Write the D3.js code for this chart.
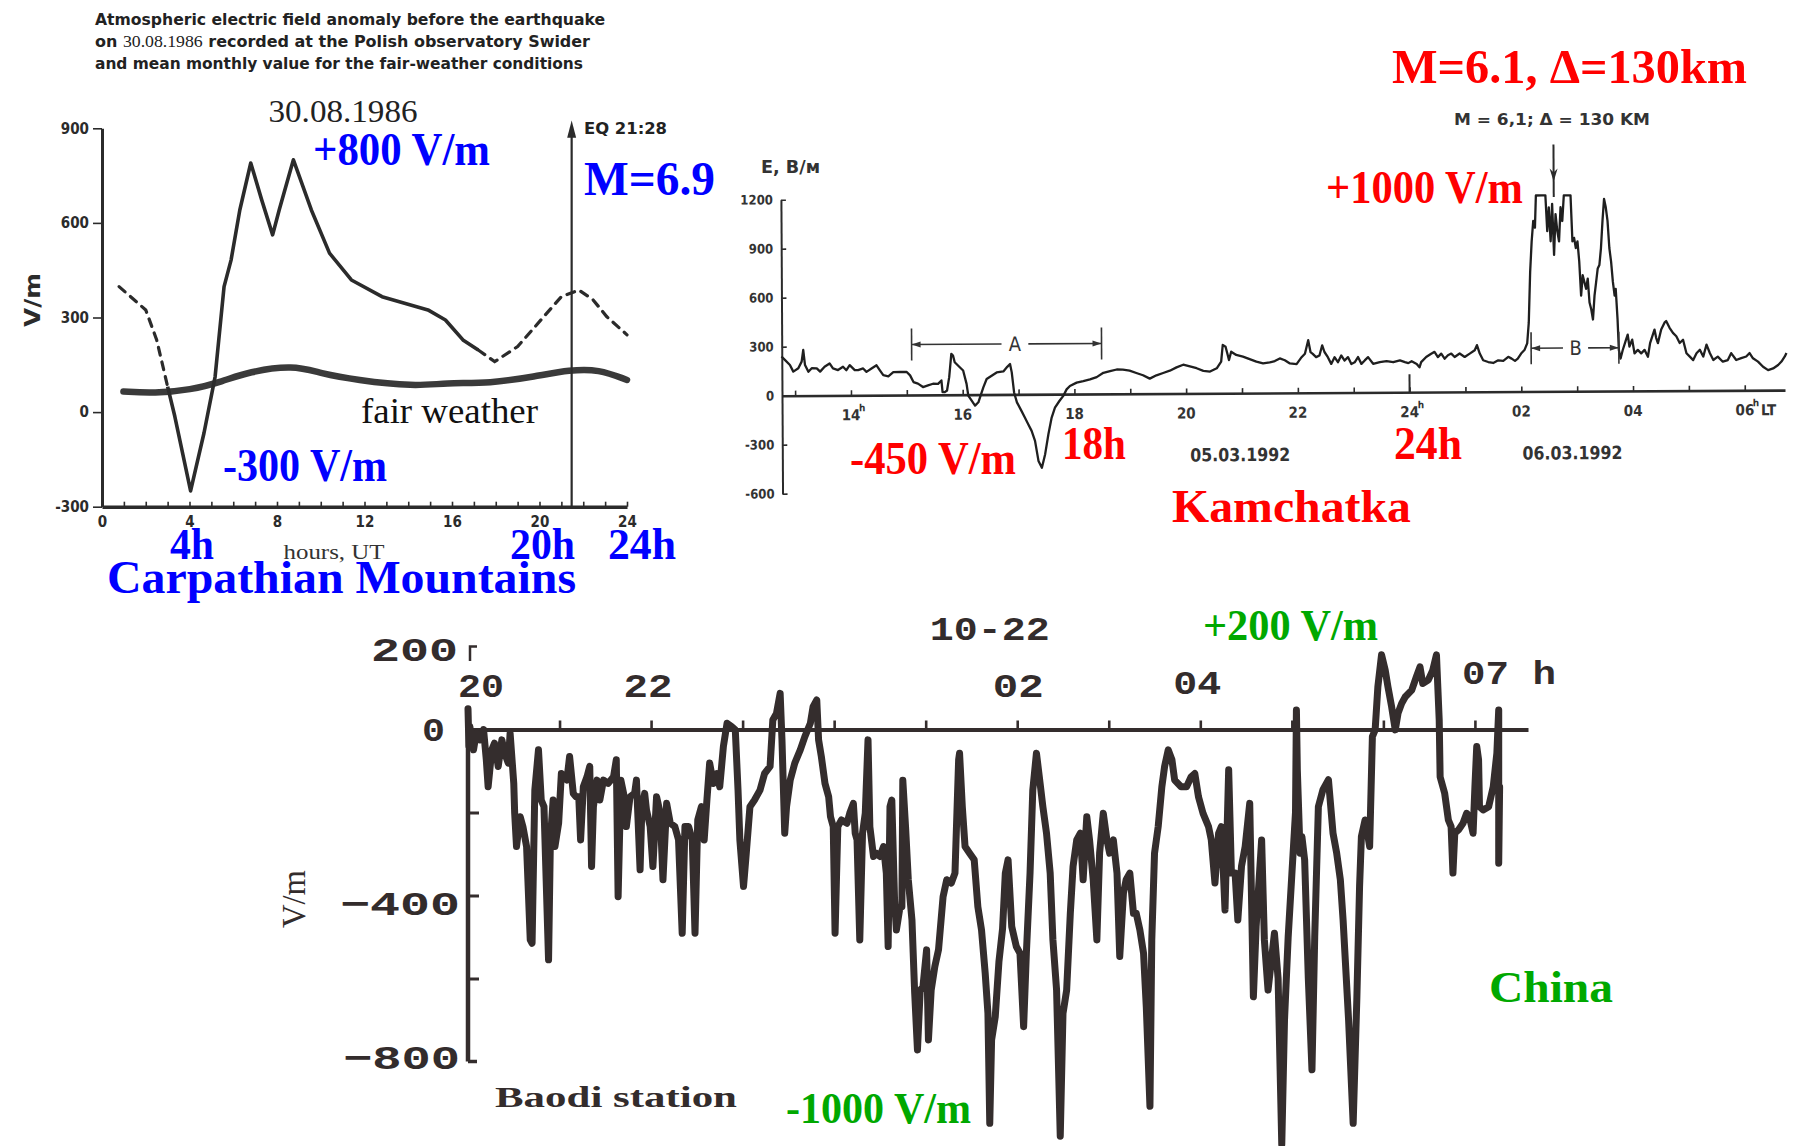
<!DOCTYPE html>
<html lang="en">
<head>
<meta charset="utf-8">
<title>Atmospheric electric field anomalies before earthquakes</title>
<script src="https://cdn.jsdelivr.net/npm/d3@7/dist/d3.min.js"></script>
<style>
  html, body { margin: 0; padding: 0; background: #fff; }
  svg { display: block; background: #fff; }
</style>
</head>
<body>
<svg id="figure" width="1796" height="1146" viewBox="0 0 1796 1146"></svg>
<script>
// ---------- Swider observatory, 30.08.1986 (hour UT, V/m) ----------
const swiderHourTicks = [0, 4, 8, 12, 16, 20, 24];
const swiderValueTicks = [-300, 0, 300, 600, 900];
const swiderDashedMorning = [[0.78, 398], [2.0, 324], [2.5, 229], [3.0, 81]];
const swiderSolid = [[3.0, 81], [3.33, -14], [4.05, -250], [4.66, -67], [5.17, 112], [5.58, 398],
  [5.9, 482], [6.3, 641], [6.8, 790], [7.3, 673], [7.8, 562], [8.1, 641], [8.75, 800], [9.57, 641],
  [10.4, 504], [11.4, 419], [12.8, 366], [14.9, 324], [15.7, 292], [16.5, 229], [17.2, 197]];
const swiderDashedEvening = [[17.2, 197], [17.95, 160], [19.0, 208], [20.2, 303], [21.0, 366],
  [21.8, 387], [22.45, 356], [23.07, 303], [24.0, 245]];
const swiderFairWeather = [[0.98, 65], [2.4, 60], [4.05, 70], [5.5, 97], [6.7, 128], [8.75, 149],
  [10.0, 123], [11.6, 102], [14.3, 81], [15.7, 93], [17.75, 91], [19.8, 113], [21.4, 134],
  [22.7, 136], [24.0, 102]];
const swiderQuakeHour = 21.47;          // EQ 21:28

// ---------- Kamchatka, 05-06.03.1992 (local hour counted from 05.03 00h, V/m) ----------
const kamValueTicks = [-600, -300, 0, 300, 600, 900, 1200];
const kamHourTicks = [13, 14, 15, 16, 17, 18, 19, 20, 21, 22, 23, 24, 25, 26, 27, 28, 29, 30];
const kamHourLabelAt = [14, 16, 18, 20, 22, 24, 26, 28, 30];
const kamHourLabels = ["14", "16", "18", "20", "22", "24", "02", "04", "06"];
const kamHourSup = ["h", "", "", "", "", "h", "", "", "h"];
const kamDates = ["05.03.1992", "06.03.1992"];
const kamDateAt = [20.96, 26.91];
const kamQuakeHour = 26.60;
const kamBrackets = [
  { name: "A", from: 15.09, to: 18.49, level: 309, gapFrom: 16.70, gapTo: 17.18 },
  { name: "B", from: 26.18, to: 27.75, level: 265, gapFrom: 26.75, gapTo: 27.20 }
];
const kamTrace = [[12.76, 240], [12.82, 219], [12.91, 188], [12.97, 147], [13.06, 167], [13.12, 208],
  [13.15, 279], [13.18, 187], [13.24, 146], [13.30, 167], [13.39, 166], [13.45, 146], [13.53, 176],
  [13.62, 196], [13.68, 165], [13.77, 155], [13.86, 175], [13.92, 154], [13.98, 185], [14.07, 154],
  [14.13, 154], [14.22, 164], [14.28, 143], [14.37, 163], [14.46, 183], [14.52, 152], [14.58, 122],
  [14.67, 115], [14.76, 141], [14.88, 141], [15.00, 141], [15.06, 120], [15.12, 79], [15.20, 69],
  [15.29, 48], [15.38, 58], [15.47, 68], [15.56, 67], [15.62, 88], [15.64, 16], [15.68, 16],
  [15.72, 26], [15.76, 108], [15.80, 250], [15.83, 240], [15.86, 199], [15.95, 168], [16.01, 148],
  [16.07, 66], [16.10, -6], [16.16, -37], [16.22, -67], [16.28, -47], [16.32, -7], [16.37, 44],
  [16.43, 95], [16.52, 115], [16.61, 135], [16.73, 141], [16.80, 169], [16.85, 186], [16.88, 135],
  [16.92, 12], [16.97, -49], [17.05, -101], [17.11, -142], [17.17, -183], [17.23, -224], [17.29, -285],
  [17.35, -408], [17.41, -450], [17.47, -367], [17.53, -245], [17.59, -143], [17.65, -82], [17.73, -42],
  [17.80, -11], [17.86, 29], [17.92, 50], [18.04, 70], [18.16, 79], [18.28, 89], [18.40, 103],
  [18.52, 129], [18.64, 139], [18.76, 149], [18.87, 148], [18.99, 142], [19.11, 127], [19.23, 113],
  [19.35, 92], [19.47, 112], [19.59, 126], [19.71, 140], [19.83, 160], [19.95, 176], [20.07, 165],
  [20.19, 154], [20.31, 138], [20.43, 133], [20.55, 153], [20.63, 194], [20.66, 296], [20.71, 285],
  [20.74, 245], [20.77, 203], [20.81, 254], [20.90, 234], [21.02, 223], [21.14, 208], [21.26, 192],
  [21.38, 181], [21.50, 187], [21.59, 195], [21.68, 211], [21.77, 200], [21.86, 180], [21.98, 176],
  [22.07, 218], [22.13, 239], [22.19, 322], [22.23, 249], [22.27, 238], [22.33, 218], [22.39, 228],
  [22.44, 290], [22.48, 249], [22.54, 217], [22.60, 176], [22.66, 217], [22.72, 186], [22.78, 227],
  [22.84, 196], [22.90, 217], [22.96, 175], [23.02, 185], [23.08, 217], [23.14, 175], [23.20, 196],
  [23.26, 216], [23.35, 175], [23.47, 185], [23.59, 191], [23.71, 184], [23.83, 195], [23.92, 184],
  [23.98, 178], [24.04, 190], [24.13, 173], [24.18, 152], [24.21, 184], [24.30, 215], [24.39, 235],
  [24.45, 246], [24.51, 214], [24.57, 235], [24.63, 204], [24.69, 225], [24.75, 235], [24.81, 214],
  [24.90, 235], [24.99, 214], [25.08, 234], [25.17, 255], [25.21, 286], [25.26, 234], [25.32, 193],
  [25.41, 182], [25.50, 176], [25.59, 192], [25.68, 188], [25.77, 213], [25.83, 202], [25.89, 188],
  [25.94, 202], [26.00, 233], [26.06, 254], [26.11, 295], [26.14, 420], [26.17, 732], [26.20, 919],
  [26.23, 1044], [26.26, 1003], [26.28, 1200], [26.39, 1200], [26.45, 1200], [26.48, 981], [26.51, 1127],
  [26.54, 919], [26.57, 1148], [26.60, 836], [26.63, 1085], [26.66, 981], [26.69, 918], [26.72, 1127],
  [26.75, 1043], [26.78, 1200], [26.90, 1200], [26.93, 918], [26.96, 939], [26.99, 877], [27.02, 918],
  [27.05, 793], [27.08, 585], [27.11, 710], [27.14, 668], [27.17, 627], [27.20, 689], [27.23, 543],
  [27.26, 502], [27.29, 439], [27.32, 585], [27.35, 668], [27.38, 751], [27.41, 772], [27.44, 876],
  [27.47, 1042], [27.50, 1177], [27.53, 1125], [27.56, 1042], [27.59, 876], [27.62, 792], [27.65, 668],
  [27.68, 584], [27.70, 626], [27.73, 439], [27.75, 251], [27.78, 199], [27.82, 251], [27.88, 314],
  [27.91, 345], [27.94, 272], [27.99, 314], [28.03, 230], [28.09, 251], [28.15, 230], [28.21, 251],
  [28.27, 209], [28.31, 292], [28.35, 334], [28.39, 375], [28.42, 323], [28.45, 292], [28.51, 375],
  [28.57, 417], [28.60, 427], [28.66, 385], [28.72, 354], [28.78, 333], [28.84, 292], [28.90, 312],
  [28.96, 229], [29.02, 208], [29.08, 187], [29.14, 229], [29.20, 250], [29.26, 208], [29.32, 281],
  [29.38, 228], [29.44, 187], [29.52, 207], [29.61, 176], [29.70, 186], [29.76, 228], [29.85, 186],
  [29.94, 197], [30.03, 207], [30.09, 228], [30.15, 196], [30.24, 175], [30.33, 144], [30.42, 123],
  [30.51, 133], [30.60, 154], [30.66, 175], [30.72, 206], [30.75, 227]];

// ---------- Baodi station, 10-22 (hour counted from 10-21 00h, V/m) ----------
const baodiHourTicks = [21, 22, 23, 24, 25, 26, 27, 28, 29, 30, 31];
const baodiMinorValueTicks = [-200, -400, -600];
const baodiValueLabels = ["200", "0", "\u2212400", "\u2212800"];
const baodiHourLabels = ["20", "22", "02", "04", "07 h"];
const baodiHourLabelAt = [20, 22, 26, 28, 31];
const baodiTrace = [[20.00, 50], [20.01, -40], [20.02, 7], [20.06, -49], [20.09, -9], [20.13, -25],
  [20.17, 0], [20.20, -73], [20.22, -138], [20.26, -49], [20.29, -33], [20.33, -89], [20.37, -25],
  [20.40, -57], [20.44, -81], [20.46, -9], [20.50, -130], [20.51, -202], [20.53, -282], [20.57, -210],
  [20.60, -234], [20.64, -282], [20.68, -507], [20.70, -515], [20.73, -146], [20.77, -49], [20.80, -170],
  [20.83, -186], [20.88, -555], [20.90, -266], [20.93, -170], [20.95, -282], [20.99, -226], [21.02, -106],
  [21.08, -122], [21.11, -65], [21.15, -154], [21.18, -162], [21.21, -162], [21.23, -266], [21.26, -138],
  [21.30, -114], [21.33, -89], [21.35, -330], [21.37, -186], [21.41, -122], [21.44, -170], [21.48, -122],
  [21.53, -130], [21.59, -114], [21.62, -73], [21.64, -403], [21.67, -122], [21.70, -154], [21.73, -234],
  [21.77, -162], [21.82, -154], [21.84, -122], [21.88, -338], [21.90, -186], [21.93, -154], [21.95, -194],
  [21.99, -234], [22.02, -330], [22.06, -162], [22.10, -202], [22.13, -362], [22.17, -178], [22.21, -226],
  [22.26, -234], [22.30, -266], [22.34, -491], [22.37, -234], [22.41, -234], [22.45, -266], [22.48, -491],
  [22.51, -218], [22.55, -186], [22.58, -266], [22.61, -170], [22.64, -81], [22.68, -130], [22.72, -106],
  [22.75, -138], [22.79, -41], [22.83, 15], [22.88, 7], [22.92, -1], [22.95, -146], [22.97, -266],
  [23.01, -378], [23.04, -298], [23.08, -186], [23.13, -170], [23.19, -146], [23.24, -106], [23.30, -89],
  [23.33, 23], [23.37, 39], [23.41, 87], [23.43, -25], [23.46, -250], [23.48, -186], [23.52, -122],
  [23.57, -81], [23.63, -49], [23.68, -17], [23.74, 15], [23.77, 55], [23.81, 71], [23.83, -25],
  [23.86, -65], [23.90, -130], [23.94, -162], [23.96, -210], [23.99, -234], [24.01, -491], [24.04, -234],
  [24.08, -218], [24.14, -226], [24.17, -202], [24.21, -178], [24.23, -250], [24.25, -266], [24.28, -507],
  [24.31, -250], [24.34, -202], [24.37, -25], [24.39, -234], [24.43, -306], [24.46, -298], [24.50, -306],
  [24.54, -282], [24.57, -346], [24.59, -523], [24.61, -186], [24.63, -170], [24.66, -411], [24.68, -483],
  [24.72, -427], [24.74, -427], [24.75, -122], [24.78, -234], [24.81, -362], [24.85, -459], [24.88, -636],
  [24.91, -772], [24.94, -628], [24.97, -620], [25.01, -531], [25.03, -748], [25.06, -628], [25.10, -571],
  [25.14, -531], [25.19, -403], [25.23, -362], [25.28, -370], [25.32, -346], [25.36, -73], [25.37, -57],
  [25.40, -186], [25.43, -282], [25.48, -298], [25.53, -314], [25.57, -427], [25.61, -483], [25.65, -587],
  [25.68, -684], [25.70, -949], [25.72, -748], [25.76, -692], [25.80, -560], [25.84, -480], [25.87, -346],
  [25.90, -314], [25.94, -475], [25.99, -523], [26.03, -539], [26.07, -716], [26.10, -539], [26.14, -346],
  [26.17, -146], [26.21, -57], [26.25, -130], [26.28, -186], [26.32, -250], [26.36, -346], [26.39, -507],
  [26.43, -628], [26.47, -980], [26.50, -684], [26.54, -628], [26.58, -443], [26.61, -330], [26.65, -266],
  [26.69, -250], [26.72, -362], [26.76, -210], [26.79, -266], [26.83, -362], [26.87, -507], [26.90, -298],
  [26.94, -202], [26.98, -266], [27.01, -298], [27.05, -266], [27.09, -346], [27.12, -547], [27.16, -395],
  [27.19, -362], [27.23, -346], [27.27, -443], [27.30, -443], [27.34, -483], [27.38, -539], [27.41, -668],
  [27.45, -908], [27.47, -507], [27.50, -298], [27.54, -234], [27.58, -138], [27.61, -89], [27.65, -49],
  [27.69, -73], [27.72, -122], [27.79, -138], [27.85, -138], [27.90, -114], [27.94, -106], [27.98, -162],
  [28.03, -202], [28.09, -234], [28.12, -266], [28.16, -370], [28.20, -250], [28.23, -234], [28.27, -435],
  [28.31, -97], [28.34, -346], [28.38, -346], [28.41, -459], [28.45, -330], [28.49, -282], [28.54, -178],
  [28.58, -644], [28.61, -475], [28.67, -266], [28.70, -507], [28.74, -628], [28.81, -491], [28.85, -600],
  [28.89, -1000], [28.92, -700], [28.96, -500], [29.00, -350], [29.04, -200], [29.05, 47], [29.06, -97],
  [29.09, -298], [29.11, -258], [29.14, -314], [29.18, -600], [29.22, -820], [29.25, -500], [29.29, -186],
  [29.34, -145], [29.40, -121], [29.45, -250], [29.49, -298], [29.53, -362], [29.56, -459], [29.62, -700],
  [29.67, -949], [29.71, -650], [29.74, -378], [29.76, -258], [29.80, -218], [29.82, -242], [29.85, -282],
  [29.88, -17], [29.91, -1], [29.94, 103], [29.98, 180], [30.02, 143], [30.05, 103], [30.09, 55],
  [30.13, -1], [30.16, 39], [30.20, 63], [30.24, 79], [30.31, 95], [30.36, 127], [30.40, 151],
  [30.43, 111], [30.49, 119], [30.54, 143], [30.58, 180], [30.61, 23], [30.62, -114], [30.67, -154],
  [30.71, -218], [30.74, -234], [30.76, -346], [30.78, -250], [30.82, -242], [30.87, -226], [30.91, -202],
  [30.94, -210], [30.98, -250], [31.00, -138], [31.02, -41], [31.04, -73], [31.05, -186], [31.09, -194],
  [31.15, -186], [31.20, -138], [31.24, -57], [31.26, 47], [31.26, -322], [31.27, -138]];

// ---------- shared helpers ----------
const NARROW = '"Liberation Sans Narrow", "DejaVu Sans Condensed", "Arial Narrow", sans-serif';
const SERIF = '"Liberation Serif", "Times New Roman", serif';
const MONO = '"Liberation Mono", "Courier New", monospace';
const INK = "#2b2b2b";
const BLUE = "#0000ff", RED = "#ff0000", GREEN = "#00a800";
const plain = d => String(d);   // ASCII hyphen for negative tick values

const svg = d3.select("#figure");

function addText(parent, x, y, str, o = {}) {
  const t = parent.append("text")
    .attr("x", x).attr("y", y)
    .style("font-family", o.family || SERIF)
    .style("font-size", (o.size || 16) + "px")
    .style("font-weight", o.weight || "normal")
    .style("fill", o.fill || INK)
    .attr("text-anchor", o.anchor || "start")
    .text(str);
  if (o.width) t.attr("textLength", o.width).attr("lengthAdjust", "spacingAndGlyphs");
  if (o.rotate) t.attr("transform", `rotate(${o.rotate},${x},${y})`);
  return t;
}

function styleAxis(sel, o) {
  sel.select(".domain").attr("stroke", o.stroke || INK).attr("stroke-width", o.domainWidth || 2.5);
  sel.selectAll(".tick line").attr("stroke", o.stroke || INK).attr("stroke-width", o.tickWidth || 1.6);
  sel.selectAll(".tick text")
    .style("font-family", o.family || NARROW)
    .style("font-size", (o.size || 14) + "px")
    .style("font-weight", o.weight || "bold")
    .style("fill", o.fill || INK);
}

// =====================================================================
// Swider (Carpathian) panel
// =====================================================================
const sx = d3.scaleLinear().domain([0, 24]).range([102, 627]);
const sy = d3.scaleLinear().domain([-300, 900]).range([506.7, 128.3]);
const gS = svg.append("g");

addText(gS, 95, 25, "Atmospheric electric field anomaly before the earthquake",
  { family: NARROW, size: 16, weight: "bold", width: 510, fill: "#222" });
const line2 = addText(gS, 95, 47, "", { family: NARROW, size: 16, weight: "bold", width: 495, fill: "#222" });
line2.append("tspan").text("on ");
line2.append("tspan").style("font-family", SERIF).style("font-weight", "normal").text("30.08.1986");
line2.append("tspan").text(" recorded at the Polish observatory Swider");
addText(gS, 95, 69, "and mean monthly value for the fair-weather conditions",
  { family: NARROW, size: 16, weight: "bold", width: 488, fill: "#222" });

addText(gS, 343, 122, "30.08.1986", { size: 31, anchor: "middle", width: 149, fill: "#222" });

const sYAxis = gS.append("g").attr("transform", `translate(${sx(0)},0)`)
  .call(d3.axisLeft(sy).tickValues(swiderValueTicks).tickSize(9).tickSizeOuter(0).tickPadding(4)
    .tickFormat(plain));
styleAxis(sYAxis, { domainWidth: 3, size: 15 });

const sXAxis = gS.append("g").attr("transform", `translate(0,${sy(-300)})`)
  .call(d3.axisBottom(sx).tickValues(d3.range(0, 25)).tickSize(-5).tickSizeOuter(0).tickPadding(10)
    .tickFormat(h => swiderHourTicks.includes(h) ? String(h) : ""));
styleAxis(sXAxis, { domainWidth: 3.5, size: 15 });

addText(gS, 40, 300, "V/m", { family: '"DejaVu Sans", sans-serif', size: 21, weight: "bold",
  anchor: "middle", rotate: -90, width: 54 });
addText(gS, 334, 559, "hours, UT", { size: 21, anchor: "middle", width: 101, fill: "#333" });

const sLine = d3.line().x(d => sx(d[0])).y(d => sy(d[1]));
gS.append("path").datum(swiderFairWeather)
  .attr("d", sLine.curve(d3.curveBasis))
  .attr("fill", "none").attr("stroke", "#3a3a3a").attr("stroke-width", 6.5).attr("stroke-linecap", "round");
sLine.curve(d3.curveLinear);
gS.append("path").datum(swiderSolid).attr("d", sLine)
  .attr("fill", "none").attr("stroke", INK).attr("stroke-width", 3.6).attr("stroke-linejoin", "round");
[swiderDashedMorning, swiderDashedEvening].forEach(seg => {
  gS.append("path").datum(seg).attr("d", sLine)
    .attr("fill", "none").attr("stroke", INK).attr("stroke-width", 3.2)
    .attr("stroke-dasharray", "8,7").attr("stroke-linecap", "round");
});

// earthquake marker
const qx = sx(swiderQuakeHour);
gS.append("line").attr("x1", qx).attr("x2", qx).attr("y1", sy(-300)).attr("y2", sy(900))
  .attr("stroke", INK).attr("stroke-width", 2.2);
gS.append("path")
  .attr("d", `M${qx},${sy(925)} L${qx - 4.5},${sy(870)} L${qx + 4.5},${sy(870)} Z`)
  .attr("fill", INK);
addText(gS, 584, 134, "EQ 21:28", { family: NARROW, size: 16, weight: "bold", width: 83, fill: "#222" });

addText(gS, 361, 423, "fair weather", { size: 36, width: 177, fill: "#111" });

addText(gS, 313, 165, "+800 V/m", { size: 46, weight: "bold", fill: BLUE, width: 177 });
addText(gS, 584, 195, "M=6.9", { size: 48, weight: "bold", fill: BLUE, width: 131 });
addText(gS, 223, 481, "-300 V/m", { size: 46, weight: "bold", fill: BLUE, width: 164 });
addText(gS, 170, 559, "4h", { size: 44, weight: "bold", fill: BLUE, width: 44 });
addText(gS, 510, 559, "20h", { size: 44, weight: "bold", fill: BLUE, width: 65 });
addText(gS, 608, 559, "24h", { size: 44, weight: "bold", fill: BLUE, width: 68 });
addText(gS, 107, 593, "Carpathian Mountains", { size: 46, weight: "bold", fill: BLUE, width: 469 });

// =====================================================================
// Kamchatka panel (the recorder sheet sits slightly tilted)
// =====================================================================
const kx = d3.scaleLinear().domain([12.765, 30.72]).range([782, 1785]);
const ky = d3.scaleLinear().domain([-600, 1200]).range([493.7, 199.7]);
const gK = svg.append("g").attr("transform", `rotate(-0.32,${kx(12.765)},${ky(0)})`);

const kYAxis = gK.append("g").attr("transform", `translate(${kx(12.765)},0)`)
  .call(d3.axisLeft(ky).tickValues(kamValueTicks).tickSize(-5).tickSizeOuter(0).tickPadding(8)
    .tickFormat(plain));
styleAxis(kYAxis, { domainWidth: 2, size: 13, fill: "#333" });

const kXAxis = gK.append("g").attr("transform", `translate(0,${ky(0)})`)
  .call(d3.axisBottom(kx).tickValues(kamHourTicks).tickSize(-5).tickSizeOuter(0).tickFormat(""));
styleAxis(kXAxis, { domainWidth: 2.6 });
// longer tick at midnight
gK.append("line").attr("x1", kx(24)).attr("x2", kx(24)).attr("y1", ky(0)).attr("y2", ky(110))
  .attr("stroke", INK).attr("stroke-width", 2);

kamHourLabelAt.forEach((h, i) => {
  addText(gK, kx(h), ky(0) + 25, kamHourLabels[i], { family: NARROW, size: 15, weight: "bold",
    anchor: "middle", fill: "#333" });
  if (kamHourSup[i]) addText(gK, kx(h) + 8, ky(0) + 16, kamHourSup[i],
    { family: NARROW, size: 10, weight: "bold", fill: "#333" });
});
addText(gK, kx(30) + 16, ky(0) + 25, "LT", { family: NARROW, size: 15, weight: "bold", fill: "#333" });
kamDateAt.forEach((h, i) => addText(gK, kx(h), ky(0) + 68, kamDates[i],
  { family: NARROW, size: 18, weight: "bold", anchor: "middle", width: 100, fill: "#333" }));

gK.append("path").datum(kamTrace)
  .attr("d", d3.line().x(d => kx(d[0])).y(d => ky(d[1])))
  .attr("fill", "none").attr("stroke", "#1f1f1f").attr("stroke-width", 2.3).attr("stroke-linejoin", "round");

// interval brackets A and B
kamBrackets.forEach(b => {
  const y = ky(b.level), x0 = kx(b.from), x1 = kx(b.to);
  const gb = gK.append("g").attr("stroke", "#333").attr("stroke-width", 1.6).attr("fill", "#333");
  gb.append("line").attr("x1", x0).attr("x2", x0).attr("y1", y - 16).attr("y2", y + 16);
  gb.append("line").attr("x1", x1).attr("x2", x1).attr("y1", y - 16).attr("y2", y + 16);
  gb.append("line").attr("x1", x0).attr("x2", kx(b.gapFrom)).attr("y1", y).attr("y2", y);
  gb.append("line").attr("x1", kx(b.gapTo)).attr("x2", x1).attr("y1", y).attr("y2", y);
  gb.append("path").attr("d", `M${x0},${y} l9,-3 v6 Z`).attr("stroke", "none");
  gb.append("path").attr("d", `M${x1},${y} l-9,-3 v6 Z`).attr("stroke", "none");
  addText(gK, kx((b.gapFrom + b.gapTo) / 2), y + 7, b.name,
    { family: NARROW, size: 20, anchor: "middle", fill: "#333" });
});

// earthquake arrow
const kqx = kx(kamQuakeHour);
gK.append("line").attr("x1", kqx).attr("x2", kqx).attr("y1", ky(1511)).attr("y2", ky(1190))
  .attr("stroke", INK).attr("stroke-width", 2);
gK.append("path").attr("d", `M${kqx},${ky(1285)} l-4,-13 l4,4 l4,-4 Z`).attr("fill", INK);

addText(svg, 1552, 125, "M = 6,1;  \u0394 = 130 KM", { family: NARROW, size: 16, weight: "bold",
  anchor: "middle", width: 196, fill: "#333" });
addText(svg, 761, 173, "E, \u0412/\u043c", { family: NARROW, size: 17, weight: "bold", width: 59, fill: "#333" });

addText(svg, 1392, 83, "M=6.1, \u0394=130km", { size: 48, weight: "bold", fill: RED, width: 355 });
addText(svg, 1326, 203, "+1000 V/m", { size: 46, weight: "bold", fill: RED, width: 197 });
addText(svg, 850, 474, "-450 V/m", { size: 46, weight: "bold", fill: RED, width: 166 });
addText(svg, 1062, 459, "18h", { size: 46, weight: "bold", fill: RED, width: 64 });
addText(svg, 1394, 459, "24h", { size: 46, weight: "bold", fill: RED, width: 68 });
addText(svg, 1172, 522, "Kamchatka", { size: 46, weight: "bold", fill: RED, width: 239 });

// =====================================================================
// Baodi station (China) panel
// =====================================================================
const bx = d3.scaleLinear().domain([20, 31.58]).range([468, 1528]);
const by = d3.scaleLinear().domain([-800, 200]).range([1061.5, 646.5]);
const gB = svg.append("g");
const BINK = "#342d2d";

const bXAxis = gB.append("g").attr("transform", `translate(0,${by(0)})`)
  .call(d3.axisBottom(bx).tickValues(baodiHourTicks).tickSize(-9).tickSizeOuter(0).tickFormat(""));
styleAxis(bXAxis, { stroke: BINK, domainWidth: 4, tickWidth: 2.6 });

gB.append("line").attr("x1", bx(20)).attr("x2", bx(20)).attr("y1", by(55)).attr("y2", by(-800))
  .attr("stroke", BINK).attr("stroke-width", 4.5);
gB.append("path").attr("d", `M${bx(20)},${by(-800)} h9`).attr("stroke", BINK).attr("stroke-width", 3.5);
gB.append("path").attr("d", `M${bx(20) + 2},${by(165)} V${by(200)} h7`)
  .attr("fill", "none").attr("stroke", BINK).attr("stroke-width", 2.5);
const bYAxis = gB.append("g").attr("transform", `translate(${bx(20)},0)`)
  .call(d3.axisLeft(by).tickValues(baodiMinorValueTicks).tickSize(-11).tickSizeOuter(0).tickFormat(""));
bYAxis.select(".domain").remove();
styleAxis(bYAxis, { stroke: BINK, tickWidth: 3 });

const MONO_O = { family: MONO, size: 34, weight: "bold", fill: "#332c2c" };
addText(gB, 458, 661, baodiValueLabels[0], { ...MONO_O, anchor: "end", width: 87 });
addText(gB, 445, 741, baodiValueLabels[1], { ...MONO_O, anchor: "end", width: 23 });
addText(gB, 460, 915, baodiValueLabels[2], { ...MONO_O, anchor: "end", width: 120 });
addText(gB, 460, 1069, baodiValueLabels[3], { ...MONO_O, anchor: "end", width: 117 });

addText(gB, bx(20) - 10, 697, baodiHourLabels[0], { ...MONO_O, width: 46 });
addText(gB, bx(baodiHourLabelAt[1]) - 3, 697, baodiHourLabels[1], { ...MONO_O, anchor: "middle", width: 49 });
addText(gB, bx(baodiHourLabelAt[2]) + 1, 697, baodiHourLabels[2], { ...MONO_O, anchor: "middle", width: 51 });
addText(gB, bx(baodiHourLabelAt[3]) - 3, 694, baodiHourLabels[3], { ...MONO_O, anchor: "middle", width: 48 });
addText(gB, bx(baodiHourLabelAt[4]) - 13, 684, baodiHourLabels[4], { ...MONO_O, width: 94 });
addText(gB, bx(25.7), 640, "10-22", { ...MONO_O, anchor: "middle", width: 120 });

addText(gB, 305, 899, "V/m", { size: 34, anchor: "middle", rotate: -90, width: 58, fill: "#332c2c" });
addText(gB, 495, 1107, "Baodi station", { size: 30, weight: "bold", width: 242, fill: "#332c2c" });

gB.append("path").datum(baodiTrace)
  .attr("d", d3.line().x(d => bx(d[0])).y(d => by(d[1])))
  .attr("fill", "none").attr("stroke", BINK).attr("stroke-width", 7)
  .attr("stroke-linejoin", "round").attr("stroke-linecap", "round");

addText(svg, 1203, 640, "+200 V/m", { size: 44, weight: "bold", fill: GREEN, width: 175 });
addText(svg, 786, 1123, "-1000 V/m", { size: 44, weight: "bold", fill: GREEN, width: 185 });
addText(svg, 1489, 1002, "China", { size: 44, weight: "bold", fill: GREEN, width: 124 });
</script>
</body>
</html>
